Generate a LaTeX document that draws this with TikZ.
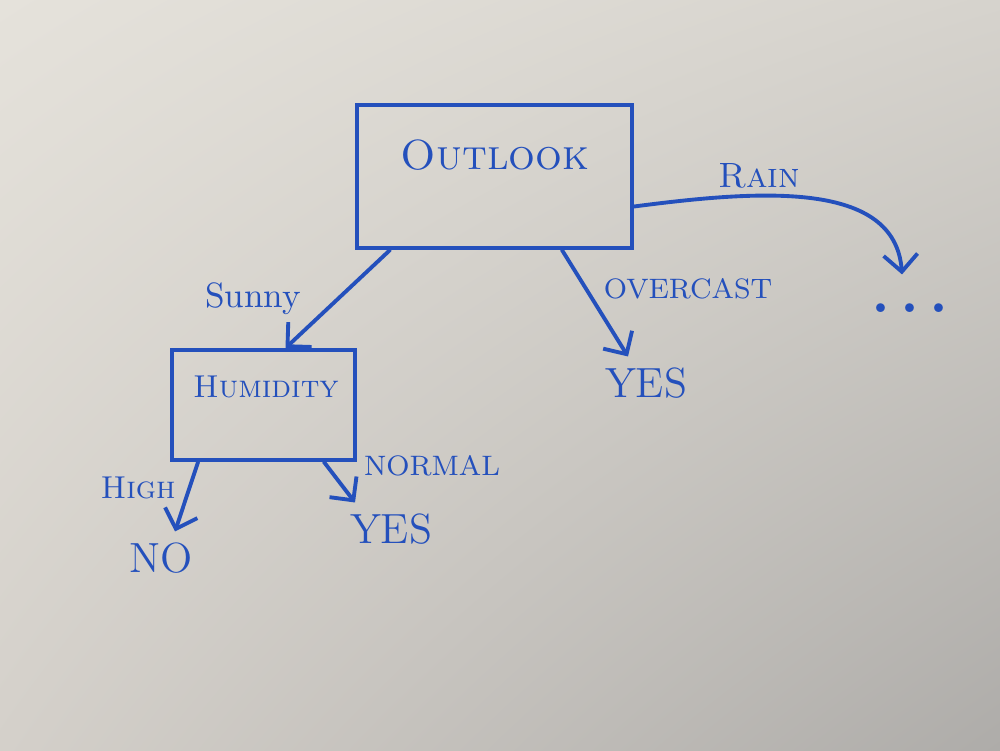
\documentclass[tikz,border=0pt]{standalone}
\usepackage{xcolor}
\usepackage{tikz}
\usetikzlibrary{arrows.meta,shadings}

\definecolor{ink}{RGB}{36,80,188}
\definecolor{paperTL}{RGB}{229,226,219}
\definecolor{paperTR}{RGB}{214,211,205}
\definecolor{paperBL}{RGB}{212,208,202}
\definecolor{paperBR}{RGB}{174,172,169}

\begin{document}
\begin{tikzpicture}[
	treebox/.style={draw=ink,line width=1.1pt,inner sep=0pt},
	word/.style={text=ink,inner sep=1pt},
	leaf/.style={text=ink,inner sep=3pt,font=\large},
	link/.style={draw=ink,line width=1.1pt,line cap=round},
	>={Straight Barb[length=1.7mm,width=3.4mm]}
]
\useasboundingbox (0,0) rectangle (10,-7.5);
\shade[upper left=paperTL,upper right=paperTR,lower left=paperBL,lower right=paperBR]
	(0,0) rectangle (10,-7.5);
%
\node[treebox,minimum width=2.75cm,minimum height=1.43cm] (outlook) at (4.945,-1.765) {};
\node[word,font=\large] (outlooktxt) at (4.95,-1.55) {\textsc{Outlook}};
\node[treebox,minimum width=1.83cm,minimum height=1.1cm] (humidity) at (2.635,-4.05) {};
\node[word,font=\small] (humiditytxt) at (2.66,-3.87) {\textsc{Humidity}};
%
\node[leaf] (yesover) at (6.46,-3.83) {YES};
\node[leaf] (yesnormal) at (3.91,-5.29) {YES};
\node[leaf] (nohigh) at (1.61,-5.58) {NO};
\node[word,font=\LARGE\bfseries] (more) at (9.1,-3.08) {.\,.\,.};
%
\node[word] (sunny) at (2.53,-2.99) {Sunny};
\node[word,font=\footnotesize] (overcast) at (6.88,-2.89) {OVERCAST};
\node[word] (rain) at (7.59,-1.76) {\textsc{Rain}};
\node[word,font=\small] (high) at (1.38,-4.88) {\textsc{High}};
\node[word,font=\footnotesize] (normal) at (4.32,-4.66) {NORMAL};
%
\draw[link,->] ([xshift=3.5mm]outlook.south west) -- ([xshift=2.2mm]humidity.north);
\draw[link,->] ([xshift=-7.2mm]outlook.south east) -- ([xshift=-1.8mm]yesover.north);
\draw[link,->] ([yshift=-3mm]outlook.east) .. controls (7.6,-1.9) and (8.95,-1.8) .. ([xshift=-0.8mm,yshift=2.5mm]more.north);
\draw[link,->] ([xshift=2.8mm]humidity.south west) -- ([xshift=1.4mm]nohigh.north);
\draw[link,->] ([xshift=-3.3mm]humidity.south east) -- ([xshift=-3.6mm]yesnormal.north);
\end{tikzpicture}
\end{document}
